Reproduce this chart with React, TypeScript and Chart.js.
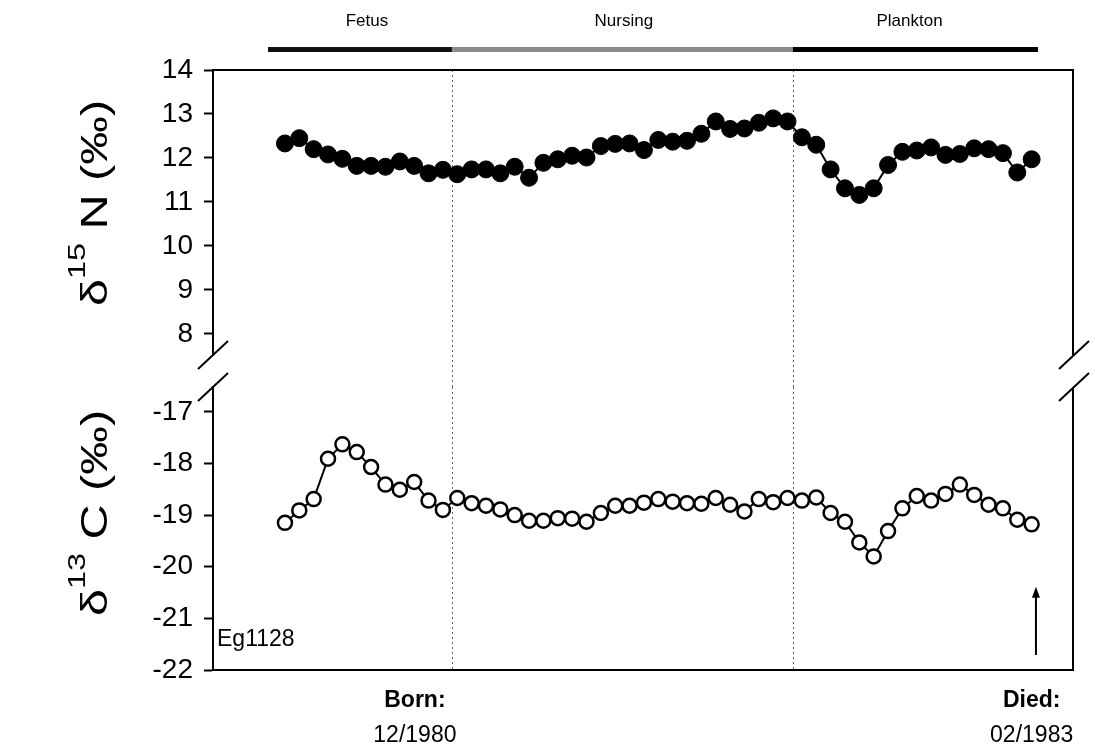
import React, { useEffect, useRef } from "react";
import { Chart, registerables } from "chart.js";

Chart.register(...registerables);

// ---- Data ----
const SAMPLE_X = Array.from({ length: 53 }, (_, i) => i + 1);
const N15 = [
  12.33, 12.45, 12.2, 12.08, 11.98, 11.82, 11.82, 11.8, 11.92, 11.82,
  11.65, 11.73, 11.63, 11.74, 11.74, 11.65, 11.8, 11.55, 11.89, 11.97,
  12.05, 12.01, 12.27, 12.32, 12.33, 12.18, 12.41, 12.37, 12.39, 12.55,
  12.83, 12.66, 12.67, 12.8, 12.9, 12.83, 12.47, 12.3, 11.74, 11.31,
  11.16, 11.31, 11.84, 12.14, 12.17, 12.24, 12.07, 12.09, 12.22, 12.2,
  12.11, 11.67, 11.97,
];
const C13 = [
  -19.15, -18.91, -18.69, -17.91, -17.63, -17.78, -18.07, -18.41, -18.51, -18.36,
  -18.72, -18.9, -18.67, -18.77, -18.82, -18.89, -19.0, -19.11, -19.11, -19.06,
  -19.07, -19.13, -18.96, -18.82, -18.82, -18.76, -18.69, -18.74, -18.77, -18.78,
  -18.67, -18.8, -18.93, -18.69, -18.75, -18.67, -18.72, -18.66, -18.96, -19.13,
  -19.53, -19.8, -19.31, -18.87, -18.63, -18.72, -18.59, -18.41, -18.61, -18.8,
  -18.87, -19.09, -19.18,
];
const TOP_TICKS = [8, 9, 10, 11, 12, 13, 14];
const BOTTOM_TICKS = [-22, -21, -20, -19, -18, -17];
const X_RANGE = [-4.01, 55.88];
const TOP_RANGE = [7.52, 14];
const BOTTOM_RANGE = [-22, -16.52];

const PHASES = ["Fetus", "Nursing", "Plankton"];
const PHASE_START = [-0.18, 12.63, 36.38];
const PHASE_END = [12.63, 36.38, 53.44];
const PHASE_LABEL_X = [6.71, 24.6, 44.5];
const PHASE_COLORS = ["#111", "#8c8c8c", "#000"];
const DIVIDERS = [12.63, 36.38];

const EVENT_TITLES = ["Born:", "Died:"];
const EVENT_DATES = ["12/1980", "02/1983"];
const EVENT_X = [10.05, 53.0];
const ARROW_X = 53.3;
const ARROW_FROM = -21.71;
const ARROW_TO = -20.39;
const SPECIMEN = "Eg1128";

const FONT = '"Liberation Sans", Arial, Helvetica, sans-serif';
const W = 1095;
const H = 755;
const PLOT_LEFT = 213;
const PLOT_RIGHT_PAD = 22;

function drawTitle(ctx: CanvasRenderingContext2D, cx: number, cy: number, sup: string, rest: string) {
  ctx.save();
  ctx.translate(cx, cy);
  ctx.rotate(-Math.PI / 2);
  ctx.scale(1.35, 1);
  ctx.fillStyle = "#000";
  ctx.textBaseline = "alphabetic";
  ctx.textAlign = "left";
  const big = `36px ${FONT}`;
  const small = `24px ${FONT}`;
  ctx.font = big;
  const wD = ctx.measureText("δ").width;
  const wR = ctx.measureText(rest).width;
  ctx.font = small;
  const wS = ctx.measureText(sup).width;
  let x = -(wD + wS + wR) / 2;
  ctx.font = big;
  ctx.fillText("δ", x, 0);
  x += wD;
  ctx.font = small;
  ctx.fillText(sup, x, -22);
  x += wS;
  ctx.font = big;
  ctx.fillText(rest, x, 0);
  ctx.restore();
}

function drawBreak(ctx: CanvasRenderingContext2D, x: number, y: number) {
  ctx.save();
  ctx.strokeStyle = "#000";
  ctx.lineWidth = 2;
  ctx.beginPath();
  ctx.moveTo(x - 15, y + 14);
  ctx.lineTo(x + 15, y - 14);
  ctx.stroke();
  ctx.restore();
}

function makeYScale(range: number[], ticks: number[]) {
  return {
    type: "linear" as const,
    position: "left" as const,
    min: range[0],
    max: range[1],
    afterFit: (s: any) => {
      s.width = PLOT_LEFT;
    },
    afterBuildTicks: (s: any) => {
      s.ticks = ticks.map((v) => ({ value: v }));
    },
    ticks: {
      color: "#000",
      font: { family: FONT, size: 28 },
      padding: 11,
    },
    grid: {
      drawOnChartArea: false,
      drawTicks: true,
      tickLength: 9,
      tickWidth: 2,
      tickColor: "#000",
    },
    border: { display: true, color: "#000", width: 2 },
  };
}

const topPlugin = {
  id: "topDeco",
  beforeDatasetsDraw(chart: any) {
    const { ctx, chartArea } = chart;
    const xs = chart.scales.x;
    ctx.save();
    ctx.strokeStyle = "#666";
    ctx.lineWidth = 1;
    ctx.setLineDash([2, 3]);
    DIVIDERS.forEach((d) => {
      const px = Math.round(xs.getPixelForValue(d)) + 0.5;
      ctx.beginPath();
      ctx.moveTo(px, chartArea.top);
      ctx.lineTo(px, chartArea.bottom + 32);
      ctx.stroke();
    });
    ctx.restore();
  },
  afterDraw(chart: any) {
    const { ctx, chartArea } = chart;
    const xs = chart.scales.x;
    ctx.save();
    ctx.strokeStyle = "#000";
    ctx.lineWidth = 2;
    ctx.beginPath();
    ctx.moveTo(chartArea.left - 1, chartArea.top);
    ctx.lineTo(chartArea.right, chartArea.top);
    ctx.lineTo(chartArea.right, chartArea.bottom);
    ctx.stroke();
    PHASES.forEach((p, i) => {
      const x0 = xs.getPixelForValue(PHASE_START[i]);
      const x1 = xs.getPixelForValue(PHASE_END[i]);
      ctx.fillStyle = PHASE_COLORS[i];
      ctx.fillRect(x0, chartArea.top - 23, x1 - x0, 5);
      ctx.fillStyle = "#000";
      ctx.font = `17px ${FONT}`;
      ctx.textAlign = "center";
      ctx.textBaseline = "middle";
      ctx.fillText(p, xs.getPixelForValue(PHASE_LABEL_X[i]), chartArea.top - 49);
    });
    drawBreak(ctx, chartArea.left, chartArea.bottom);
    drawBreak(ctx, chartArea.left, chartArea.bottom + 32);
    drawBreak(ctx, chartArea.right + 1, chartArea.bottom);
    drawBreak(ctx, chartArea.right + 1, chartArea.bottom + 32);
    ctx.restore();
    drawTitle(ctx, 107, 203, "15", " N (‰)");
  },
};

const bottomPlugin = {
  id: "bottomDeco",
  beforeDatasetsDraw(chart: any) {
    const { ctx, chartArea } = chart;
    const xs = chart.scales.x;
    ctx.save();
    ctx.strokeStyle = "#666";
    ctx.lineWidth = 1;
    ctx.setLineDash([2, 3]);
    DIVIDERS.forEach((d) => {
      const px = Math.round(xs.getPixelForValue(d)) + 0.5;
      ctx.beginPath();
      ctx.moveTo(px, chartArea.top);
      ctx.lineTo(px, chartArea.bottom);
      ctx.stroke();
    });
    ctx.restore();
  },
  afterDraw(chart: any) {
    const { ctx, chartArea } = chart;
    const xs = chart.scales.x;
    const ys = chart.scales.y;
    ctx.save();
    ctx.strokeStyle = "#000";
    ctx.lineWidth = 2;
    ctx.beginPath();
    ctx.moveTo(chartArea.left - 1, chartArea.bottom);
    ctx.lineTo(chartArea.right, chartArea.bottom);
    ctx.lineTo(chartArea.right, chartArea.top);
    ctx.stroke();
    ctx.fillStyle = "#000";
    ctx.font = `23px ${FONT}`;
    ctx.textAlign = "left";
    ctx.textBaseline = "middle";
    ctx.fillText(SPECIMEN, chartArea.left + 4, chartArea.bottom - 30);
    const ax = xs.getPixelForValue(ARROW_X);
    const ay0 = ys.getPixelForValue(ARROW_FROM);
    const ay1 = ys.getPixelForValue(ARROW_TO);
    ctx.lineWidth = 2;
    ctx.beginPath();
    ctx.moveTo(ax, ay0);
    ctx.lineTo(ax, ay1 + 8);
    ctx.stroke();
    ctx.beginPath();
    ctx.moveTo(ax, ay1);
    ctx.lineTo(ax - 4, ay1 + 11);
    ctx.lineTo(ax + 4, ay1 + 11);
    ctx.closePath();
    ctx.fill();
    EVENT_TITLES.forEach((t, i) => {
      const ex = xs.getPixelForValue(EVENT_X[i]);
      ctx.textAlign = "center";
      ctx.font = `bold 23px ${FONT}`;
      ctx.fillText(t, ex, chartArea.bottom + 31);
      ctx.font = `23px ${FONT}`;
      ctx.fillText(EVENT_DATES[i], ex, chartArea.bottom + 66);
    });
    ctx.restore();
    drawTitle(ctx, 107, 513, "13", " C (‰)");
  },
};

export default function App() {
  const topRef = useRef<HTMLCanvasElement>(null);
  const botRef = useRef<HTMLCanvasElement>(null);

  useEffect(() => {
    const common = (padTop: number, padBottom: number) => ({
      responsive: false,
      animation: false as const,
      devicePixelRatio: 1,
      layout: { padding: { top: padTop, bottom: padBottom, left: 0, right: PLOT_RIGHT_PAD } },
      plugins: { legend: { display: false }, tooltip: { enabled: false } },
      events: [] as any[],
    });

    const top = new Chart(topRef.current!, {
      type: "line",
      data: {
        datasets: [
          {
            data: SAMPLE_X.map((x, i) => ({ x, y: N15[i] })),
            borderColor: "#000",
            borderWidth: 2,
            pointRadius: 8.5,
            pointBackgroundColor: "#000",
            pointBorderColor: "#000",
            pointBorderWidth: 1,
            tension: 0,
          },
        ],
      },
      options: {
        ...common(70, 400),
        scales: {
          x: { type: "linear", min: X_RANGE[0], max: X_RANGE[1], display: false },
          y: makeYScale(TOP_RANGE, TOP_TICKS),
        },
      } as any,
      plugins: [topPlugin],
    });

    const bottom = new Chart(botRef.current!, {
      type: "line",
      data: {
        datasets: [
          {
            data: SAMPLE_X.map((x, i) => ({ x, y: C13[i] })),
            borderColor: "#000",
            borderWidth: 2,
            pointRadius: 7,
            pointBackgroundColor: "#fff",
            pointBorderColor: "#000",
            pointBorderWidth: 2.5,
            tension: 0,
          },
        ],
      },
      options: {
        ...common(387, 85),
        scales: {
          x: { type: "linear", min: X_RANGE[0], max: X_RANGE[1], display: false },
          y: makeYScale(BOTTOM_RANGE, BOTTOM_TICKS),
        },
      } as any,
      plugins: [bottomPlugin],
    });

    return () => {
      top.destroy();
      bottom.destroy();
    };
  }, []);

  const cs: React.CSSProperties = { position: "absolute", left: 0, top: 0 };
  return (
    <div style={{ position: "absolute", left: 0, top: 0, width: W, height: H, background: "#fff" }}>
      <canvas ref={botRef} width={W} height={H} style={cs} />
      <canvas ref={topRef} width={W} height={H} style={cs} />
    </div>
  );
}
